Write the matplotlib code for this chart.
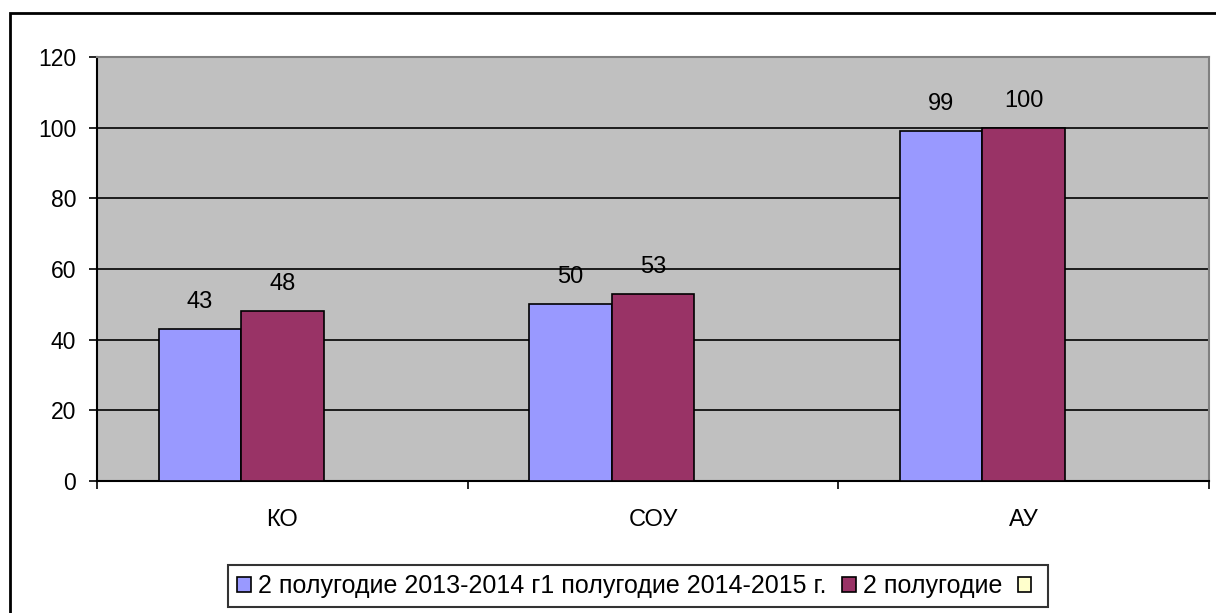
import matplotlib.pyplot as plt
from matplotlib.patches import Rectangle, Patch
import numpy as np

plt.rcParams['font.family'] = ['Liberation Sans', 'DejaVu Sans']

categories = ['КО', 'СОУ', 'АУ']
series_1 = [43, 50, 99]
series_2 = [48, 53, 100]
legend_labels = ['2 полугодие 2013-2014 г1 полугодие 2014-2015 г.', '2 полугодие', '']
colors = ['#9999FF', '#993366', '#FFFFCC']

fig = plt.figure(figsize=(12.16, 6.13), dpi=100)
ax = fig.add_axes([97 / 1216, 1 - 481 / 613, (1209 - 97) / 1216, (481 - 57) / 613])

# outer chart frame (right and bottom edges fall outside the picture)
fig.patches.append(Rectangle((10 / 1216, -0.2), 1.2, 1.2 - 13 / 613,
                             transform=fig.transFigure, fill=False,
                             edgecolor='black', linewidth=2))

# three series per category, the third one is empty
x = np.arange(len(categories)) + 0.5
w = 1 / 4.5
ax.set_facecolor('#C0C0C0')
b1 = ax.bar(x - w, series_1, w, color=colors[0], edgecolor='black', linewidth=1.2, zorder=3)
b2 = ax.bar(x, series_2, w, color=colors[1], edgecolor='black', linewidth=1.2, zorder=3)

for bars, vals in ((b1, series_1), (b2, series_2)):
    for rect, v in zip(bars, vals):
        ax.annotate(str(v), (rect.get_x() + rect.get_width() / 2, v),
                    xytext=(0, 19.5), textcoords='offset points',
                    ha='center', va='center', fontsize=17)

ax.set_xlim(0, 3)
ax.set_ylim(0, 120)
ax.set_yticks(range(0, 121, 20))
ax.yaxis.grid(True, color='black', linewidth=1.2, zorder=1)
ax.set_axisbelow(True)

ax.set_xticks(x)
ax.set_xticklabels(categories)
ax.set_xticks([0, 1, 2, 3], minor=True)
ax.tick_params(axis='x', which='major', length=0, pad=20, labelsize=17)
ax.tick_params(axis='x', which='minor', length=6, width=1.2, direction='out')
ax.tick_params(axis='y', length=6, width=1.2, direction='out', pad=9, labelsize=16.5)

for side in ('top', 'right'):
    ax.spines[side].set_color('#808080')
    ax.spines[side].set_linewidth(1.5)
for side in ('left', 'bottom'):
    ax.spines[side].set_color('black')
    ax.spines[side].set_linewidth(1.5)

handles = [Patch(facecolor=c, edgecolor='black', linewidth=1.2) for c in colors]
leg = fig.legend(handles, legend_labels, loc='center', ncol=3,
                 bbox_to_anchor=(638 / 1216, 1 - 586 / 613),
                 fontsize=18, frameon=True, fancybox=False, edgecolor='black',
                 handlelength=0.55, handleheight=0.55, handletextpad=0.3,
                 columnspacing=0.6, borderpad=0.35)
leg.get_frame().set_linewidth(1.5)

fig.savefig('out.png', dpi=100)
